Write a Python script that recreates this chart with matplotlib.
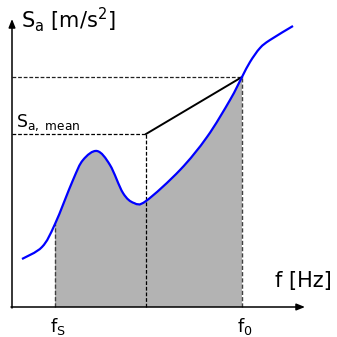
import matplotlib
matplotlib.use("Agg")
import matplotlib.pyplot as plt
from matplotlib.path import Path
from matplotlib.patches import PathPatch
import numpy as np

plt.rcParams['mathtext.default'] = 'regular'
plt.rcParams['font.family'] = ['DejaVu Sans']

# Spectrum curve (arbitrary units)
freq = [10, 30, 43, 61, 71, 85, 98, 111, 122, 134, 168, 195, 218, 230,
        238, 248, 258, 281]
amp = [48, 60, 83, 127, 147, 156, 142, 114, 104, 106, 137, 170, 207, 230,
       245, 259, 267, 281]

f_s = 43
f_0 = 230
f_mid = 134
S_f0 = 230
S_mean = 173
x_end = 293
y_end = 288

P = np.column_stack([freq, amp]).astype(float)


def bezier_segments(pts):
    """Catmull-Rom -> cubic Bezier control points (drawn by matplotlib Path)."""
    verts, codes = [tuple(pts[0])], [Path.MOVETO]
    n = len(pts)
    for i in range(n - 1):
        p0 = pts[i - 1] if i > 0 else pts[i]
        p1, p2 = pts[i], pts[i + 1]
        p3 = pts[i + 2] if i + 2 < n else pts[i + 1]
        c1 = p1 + (p2 - p0) / 6.0
        c2 = p2 - (p3 - p1) / 6.0
        verts += [tuple(c1), tuple(c2), tuple(p2)]
        codes += [Path.CURVE4] * 3
    return verts, codes


fig = plt.figure(figsize=(3.37, 3.37), dpi=100)
ax = fig.add_axes([0, 0, 1, 1])
ax.set_xlim(-12, 325)
ax.set_ylim(-30, 307)
ax.axis('off')

# shaded area under the curve between f_s and f_0
i0 = freq.index(f_s)
i1 = freq.index(f_0)
sub = P[max(i0 - 1, 0):i1 + 2]
v, c = bezier_segments(sub)
v = v[3:-3]
c = [Path.MOVETO] + c[4:-3]
v = [(f_s, 0)] + v + [(f_0, 0), (f_s, 0)]
c = [Path.MOVETO] + [Path.LINETO] + c[1:] + [Path.LINETO, Path.CLOSEPOLY]
ax.add_patch(PathPatch(Path(v, c), facecolor='#b3b3b3', edgecolor='none', zorder=1))

ax.plot([f_s, f_s], [0, amp[i0]], color='#404040', lw=1,
        ls=(0, (3, 1.5)), zorder=2)
ax.plot([f_0, f_0], [0, S_f0], color='#404040', lw=1, ls=(0, (3, 1.5)), zorder=2)

# dashed guides
ax.plot([0, f_0], [S_f0, S_f0], color='#222222', lw=0.9, ls=(0, (3, 1.5)), zorder=2)
ax.plot([0, f_mid], [S_mean, S_mean], color='black', lw=0.9, ls=(0, (3, 1.5)), zorder=2)
ax.plot([f_mid, f_mid], [0, S_mean], color='black', lw=0.9, ls=(0, (3, 1.5)), zorder=2)
ax.plot([f_mid, f_0], [S_mean, S_f0], color='black', lw=1.4, zorder=3)

# curve
vv, cc = bezier_segments(P)
ax.add_patch(PathPatch(Path(vv, cc), facecolor='none', edgecolor='#0000ff',
                       lw=1.6, zorder=4, capstyle='butt'))

# axes with arrows
ax.annotate('', xy=(0, y_end), xytext=(0, -1),
            arrowprops=dict(arrowstyle='-|>,head_length=0.5,head_width=0.2',
                            color='black', lw=1.1, shrinkA=0, shrinkB=0))
ax.annotate('', xy=(x_end, 0), xytext=(-1, 0),
            arrowprops=dict(arrowstyle='-|>,head_length=0.5,head_width=0.2',
                            color='black', lw=1.1, shrinkA=0, shrinkB=0))

# labels
ax.text(9, 279, 'S$_a$ [m/s$^2$]', fontsize=15, ha='left', va='baseline')
ax.text(4, 180, 'S$_{a,\\ mean}$', fontsize=12.5, ha='left', va='baseline')
ax.text(263, 20, 'f [Hz]', fontsize=15, ha='left', va='baseline')
ax.text(38, -25, 'f$_S$', fontsize=13, ha='left', va='baseline')
ax.text(225, -25, 'f$_0$', fontsize=13, ha='left', va='baseline')

fig.savefig('out.png', dpi=100)
